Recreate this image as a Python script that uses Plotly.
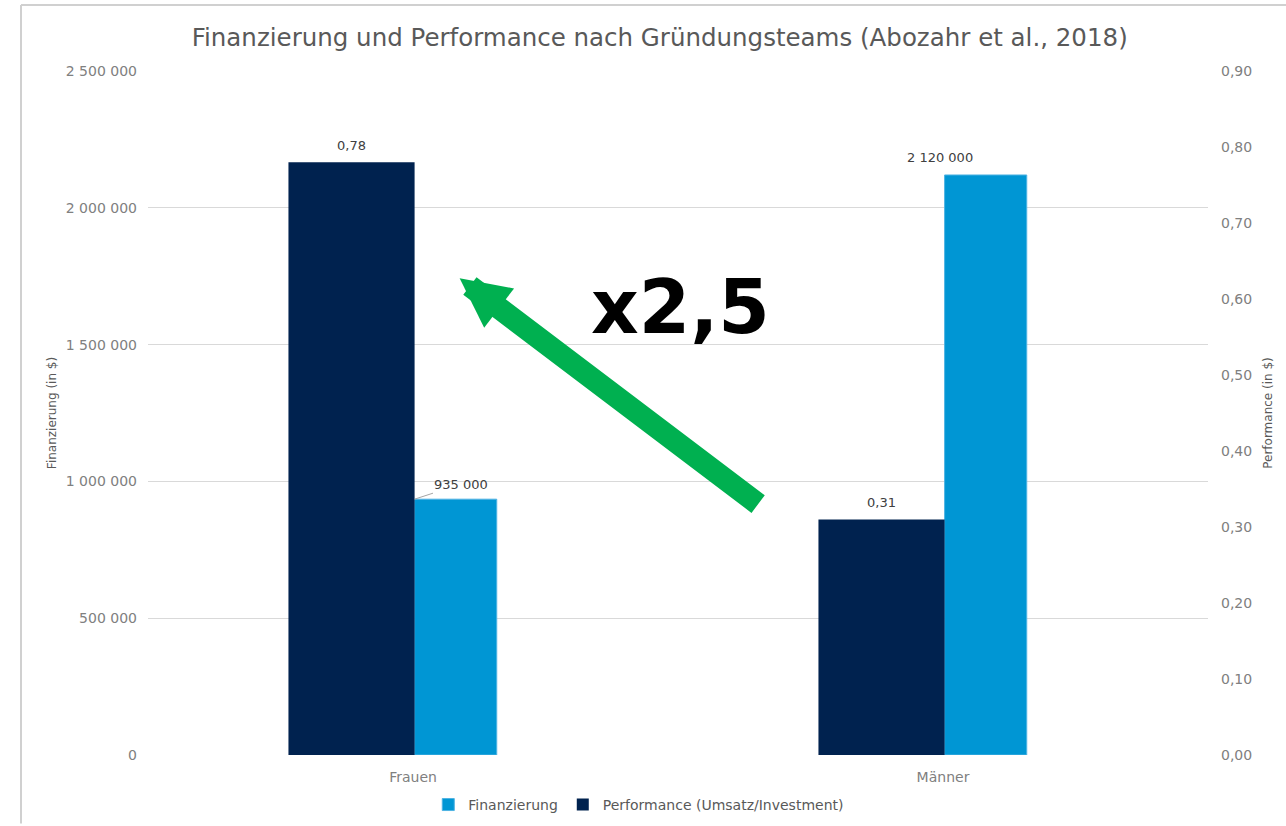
import plotly.graph_objects as go

categories = ["Frauen", "Männer"]
finanzierung = [935000, 2120000]
performance = [0.78, 0.31]
left_ticks = [0, 500000, 1000000, 1500000, 2000000, 2500000]
right_ticks = [0.0, 0.1, 0.2, 0.3, 0.4, 0.5, 0.6, 0.7, 0.8, 0.9]

DARK = "#00224F"
LIGHT = "#0096D4"
GREEN = "#00B050"
GRID = "#D9D9D9"
TICK = "#808080"
LABEL = "#404040"
FONT = "DejaVu Sans"

FIN_OFFSET, FIN_WIDTH = 0.003, 0.155
PERF_OFFSET, PERF_WIDTH = -0.235, 0.238

fig = go.Figure()

fig.add_trace(go.Bar(
    x=categories, y=finanzierung, name="Finanzierung",
    marker=dict(color=LIGHT, line=dict(color="#4FB3E3", width=1)),
    offset=FIN_OFFSET, width=FIN_WIDTH, yaxis="y",
))
fig.add_trace(go.Bar(
    x=categories, y=performance, name="Performance (Umsatz/Investment)",
    marker=dict(color=DARK, line=dict(width=0)),
    offset=PERF_OFFSET, width=PERF_WIDTH, yaxis="y2",
))

# data labels
for i, v in enumerate(performance):
    fig.add_annotation(
        x=i + PERF_OFFSET + PERF_WIDTH / 2, y=v, xref="x", yref="y2",
        text=f"{v:.2f}".replace(".", ","), showarrow=False,
        yshift=17, yanchor="middle",
        font=dict(family=FONT, size=13, color=LABEL),
    )
fin_labels = [f"{v:,d}".replace(",", " ") for v in finanzierung]
# Frauen: label moved aside with a leader line
fig.add_annotation(
    x=0 + FIN_OFFSET, y=finanzierung[0], xref="x", yref="y",
    text=fin_labels[0], showarrow=True, arrowhead=0, arrowwidth=1,
    arrowcolor="#A6A6A6", ax=46, ay=-15, standoff=0,
    font=dict(family=FONT, size=13, color=LABEL),
)
# Männer
fig.add_annotation(
    x=1 + FIN_OFFSET, y=finanzierung[1], xref="x", yref="y",
    text=fin_labels[1], showarrow=False, yshift=17, xshift=-5,
    yanchor="middle",
    font=dict(family=FONT, size=13, color=LABEL),
)

# green arrow (from Männer performance toward Frauen performance)
fig.add_annotation(
    x=0.294, y=0.697, xref="paper", yref="paper",
    ax=300, ay=227, axref="pixel", ayref="pixel",
    showarrow=True, arrowhead=2, arrowsize=0.45, arrowwidth=22,
    arrowcolor=GREEN, text="",
)
fig.add_annotation(
    x=0.502, y=0.655, xref="paper", yref="paper",
    text="<b>x2,5</b>", showarrow=False,
    font=dict(family=FONT, size=74, color="black"),
    xanchor="center", yanchor="middle",
)

# outer border lines
fig.add_shape(type="line", xref="paper", yref="paper",
              x0=-0.1198, x1=-0.1198, y0=-0.10, y1=1.0965,
              line=dict(color="#D0D0D0", width=2))
fig.add_shape(type="line", xref="paper", yref="paper",
              x0=-0.1198, x1=1.08, y0=1.0965, y1=1.0965,
              line=dict(color="#D0D0D0", width=2))

fig.update_layout(
    width=1286, height=826,
    margin=dict(l=148, r=78, t=71, b=71, autoexpand=False),
    plot_bgcolor="white", paper_bgcolor="white",
    separators=", ",
    barmode="overlay",
    font=dict(family=FONT, size=14, color=TICK),
    title=dict(
        text="Finanzierung und Performance nach Gründungsteams (Abozahr et al., 2018)",
        x=0.513, xanchor="center", y=0.955, yanchor="middle",
        font=dict(family=FONT, size=24.5, color="#595959"),
    ),
    xaxis=dict(
        showgrid=False, showline=False, ticks="",
        tickfont=dict(size=14, color=TICK),
        ticklabelstandoff=12,
    ),
    yaxis=dict(
        range=[0, 2500000], tickvals=left_ticks, tickformat=",d",
        showgrid=True, gridcolor=GRID, gridwidth=1,
        zeroline=False, showline=False,
        tickfont=dict(size=14, color=TICK), ticklabelstandoff=10,
        title=dict(text="Finanzierung (in $)", standoff=6,
                   font=dict(size=12, color="#595959")),
    ),
    yaxis2=dict(
        range=[0, 0.9], tickvals=right_ticks, tickformat=".2f",
        overlaying="y", side="right", showgrid=False, zeroline=False,
        tickfont=dict(size=14, color=TICK), ticklabelstandoff=12,
        title=dict(text="Performance (in $)", standoff=12,
                   font=dict(size=12, color="#595959")),
    ),
    legend=dict(
        orientation="h", x=0.463, xanchor="center", y=-0.073, yanchor="middle",
        font=dict(size=14, color="#595959"), itemwidth=30,
        traceorder="normal",
    ),
)

fig.write_html("out.html", config={"displayModeBar": False},
               post_script="document.body.style.margin='0px';")
